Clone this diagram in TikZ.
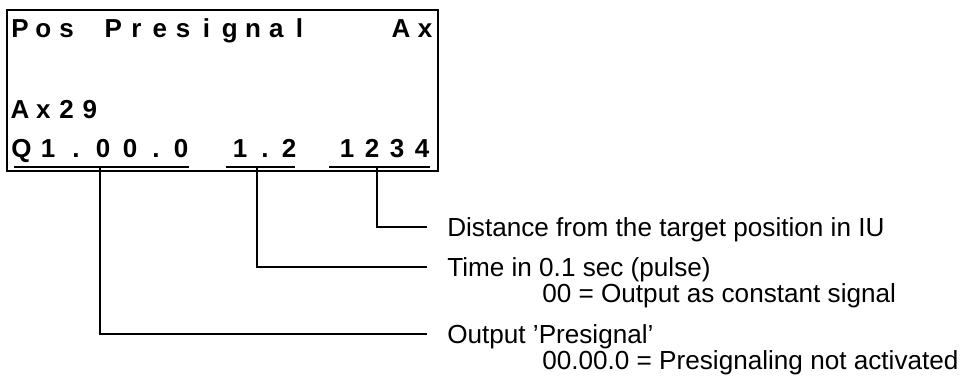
\documentclass[tikz,border=0pt]{standalone}
\usepackage{fontspec}
\setmainfont{Liberation Sans}
\begin{document}
\begin{tikzpicture}[x=0.75pt,y=-0.75pt,
  lcd/.style={font=\fontsize{19.5}{23}\selectfont\bfseries, inner sep=0pt, anchor=base},
  note/.style={font=\fontsize{19.6}{24}\selectfont, inner sep=0pt, anchor=base west},
  frame/.style={draw, line width=1.6pt},
  uline/.style={line width=0.9pt},
  lead/.style={line width=0.9pt}]
\useasboundingbox (0,0) rectangle (966,387);
% display frame
\draw[frame] (7,10) rectangle (438,171);
% row 1
\foreach \c [count=\i from 0] in {P,o,s,{},P,r,e,s,i,g,n,a,l}
  \node[lcd] (a\i) at (20+23.3*\i,37) {\c};
\node[lcd] (aA) at (401,37) {A};
\node[lcd] (ax) at (425,37) {x};
% row 3
\foreach \c [count=\i from 0] in {A,x,2,9}
  \node[lcd] (b\i) at (20+23.3*\i,118) {\c};
% row 4
\foreach \c/\px [count=\i from 0] in {Q/21.5,1/48,./76,0/103,0/130,./156,0/181,1/240,./265,2/289,1/347,2/372,3/397,4/422}
  \node[lcd] (q\i) at (\px,157.5) {\c};
% underlines
\draw[uline] (14,167) -- (189,167);
\draw[uline] (226,167) -- (295,167);
\draw[uline] (329,167) -- (430,167);
% leader start/end points
\coordinate (c1) at (100,167);
\coordinate (c2) at (257,167);
\coordinate (c3) at (377,167);
\coordinate (e1) at (427,334);
\coordinate (e2) at (427,267);
\coordinate (e3) at (427,227);
\draw[lead] (c3) |- (e3);
\draw[lead] (c2) |- (e2);
\draw[lead] (c1) |- (e1);
% explanations
\node[note] (dist) at (447,236) {Distance from the target position in IU};
\node[note] (time) at (447,276) {Time in 0.1 sec (pulse)};
\node[note] (time2) at (542,302) {00 = Output as constant signal};
\node[note] (outp) at (447,343) {Output 'Presignal'};
\node[note] (outp2) at (542,369) {00.00.0 = Presignaling not activated};
\end{tikzpicture}
\end{document}
